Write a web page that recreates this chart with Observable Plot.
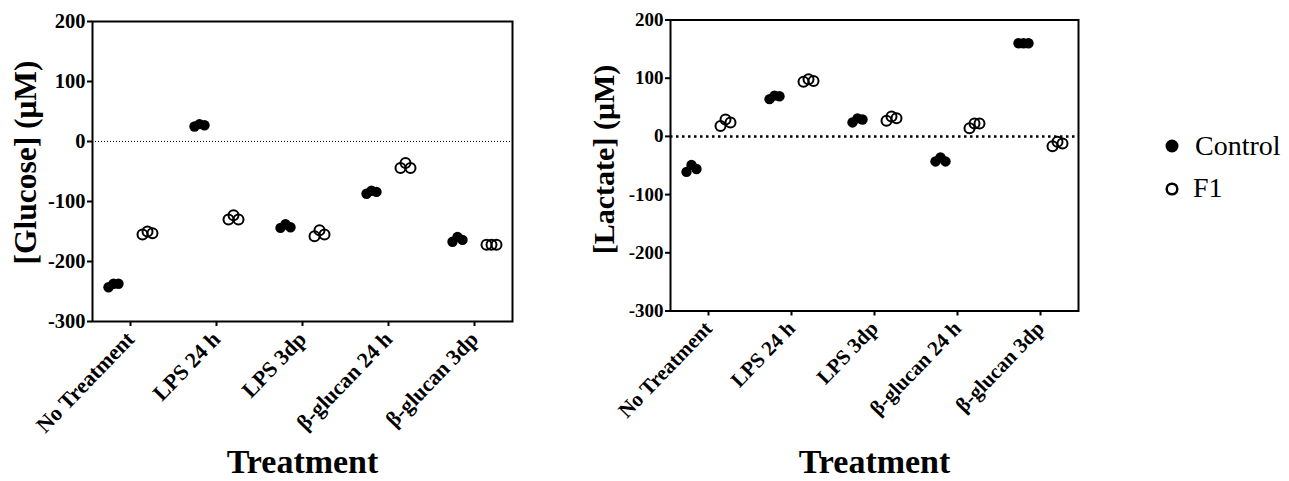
<!DOCTYPE html>
<html><head><meta charset="utf-8">
<script src="https://cdn.jsdelivr.net/npm/d3@7"></script>
<script src="https://cdn.jsdelivr.net/npm/@observablehq/plot@0.6"></script>
<style>
body{margin:0;background:#fff;width:1289px;height:481px;position:relative;overflow:hidden;font-family:"Liberation Serif",serif;}
#left{position:absolute;left:0;top:0}
#right{position:absolute;left:545px;top:0}
#legend{position:absolute;left:1150px;top:120px}
</style></head><body>
<div id="left"></div><div id="right"></div><div id="legend"></div>
<script>
const treatments = ["No Treatment","LPS 24 h","LPS 3dp","β-glucan 24 h","β-glucan 3dp"];
const seriesNames = ["Control","F1"];
const yTicks = [-300,-200,-100,0,100,200];
const glucoseControl = [[-243,-237,-237],[25,29,27],[-144,-138,-143],[-87,-82,-84],[-167,-159,-164]];
const glucoseF1 = [[-155,-150,-153],[-130,-123,-130],[-158,-148,-155],[-44,-36,-44],[-172,-172,-172]];
const lactateControl = [[-61,-49,-56],[64,70,69],[24,31,29],[-43,-36,-43],[160,160,160]];
const lactateF1 = [[18,29,24],[94,98,95],[27,34,31],[14,22,22],[-17,-9,-12]];

function rowsFor(control, f1){
  const rows = [];
  [control, f1].forEach((vals, s) => {
    treatments.forEach((t, i) => {
      vals[i].forEach((v, r) => rows.push({treatment:t, series:seriesNames[s], rep:r, value:v}));
    });
  });
  return rows;
}

function panel(o){
  const rows = rowsFor(o.control, o.f1);
  const marks = [Plot.ruleY([0], o.rule)];
  for (let r = 0; r < 3; r++) {
    marks.push(Plot.dot(rows.filter(d => d.series === "Control" && d.rep === r),
      {x:"treatment", y:"value", r:5.2, fill:"black", stroke:"none", dx:-17 + (r-1)*5}));
  }
  for (let r = 0; r < 3; r++) {
    marks.push(Plot.dot(rows.filter(d => d.series === "F1" && d.rep === r),
      {x:"treatment", y:"value", r:5, fill:"none", stroke:"black", strokeWidth:2, dx:17 + (r-1)*5}));
  }
  marks.push(
    Plot.frame({stroke:"black", strokeWidth:2}),
    Plot.axisY({ticks:yTicks, tickFormat:d => String(d), tickSize:5, tickPadding:2, fontSize:o.tickFont, fontWeight:"bold", strokeWidth:2, label:null}),
    Plot.axisX({tickRotate:-46, tickSize:5, tickPadding:9, fontSize:o.xFont, fontWeight:"bold", strokeWidth:2, label:null}),
    Plot.text([o.ylabel], {frameAnchor:"left", rotate:-90, dx:-o.yLabelOffset, dy:o.yLabelShift, lineAnchor:"top", textAnchor:"middle", fontSize:o.yLabelFont, fontWeight:"bold"}),
    Plot.text(["Treatment"], {frameAnchor:"bottom", dy:o.xLabelOffset, lineAnchor:"middle", textAnchor:"middle", fontSize:34, fontWeight:"bold"})
  );
  return Plot.plot({
    width:o.width, height:481,
    marginLeft:o.ml, marginRight:o.mr, marginTop:o.mt, marginBottom:o.mb,
    style:{fontFamily:"Liberation Serif", color:"black", background:"white"},
    x:{type:"point", domain:treatments, padding:0.44},
    y:{domain:[-300,200]},
    marks
  });
}

document.getElementById("left").append(panel({
  control:glucoseControl, f1:glucoseF1, ylabel:"[Glucose] (μM)",
  width:545, ml:92, mr:33, mt:21, mb:160, tickFont:20.5, xFont:22,
  yLabelOffset:79, yLabelShift:-9, yLabelFont:31.5, xLabelOffset:141,
  rule:{stroke:"black", strokeWidth:1, strokeDasharray:"1,2"}
}));
document.getElementById("right").append(panel({
  control:lactateControl, f1:lactateF1, ylabel:"[Lactate] (μM)",
  width:560, ml:125, mr:27, mt:19.5, mb:170.5, tickFont:19, xFont:21,
  yLabelOffset:78, yLabelShift:-6, yLabelFont:30, xLabelOffset:151.5,
  rule:{stroke:"black", strokeWidth:2.5, strokeDasharray:"2.5,3.5"}
}));

const leg = d3.select("#legend").append("svg").attr("width",139).attr("height",100)
  .style("font-family","Liberation Serif");
leg.append("circle").attr("cx",22).attr("cy",26).attr("r",6.5).attr("fill","black");
leg.append("text").attr("x",45).attr("y",35).attr("font-size",28).text(seriesNames[0]);
leg.append("circle").attr("cx",22).attr("cy",69).attr("r",5.3).attr("fill","none").attr("stroke","black").attr("stroke-width",2.5);
leg.append("text").attr("x",43).attr("y",77).attr("font-size",28).text(seriesNames[1]);
</script>
</body></html>
